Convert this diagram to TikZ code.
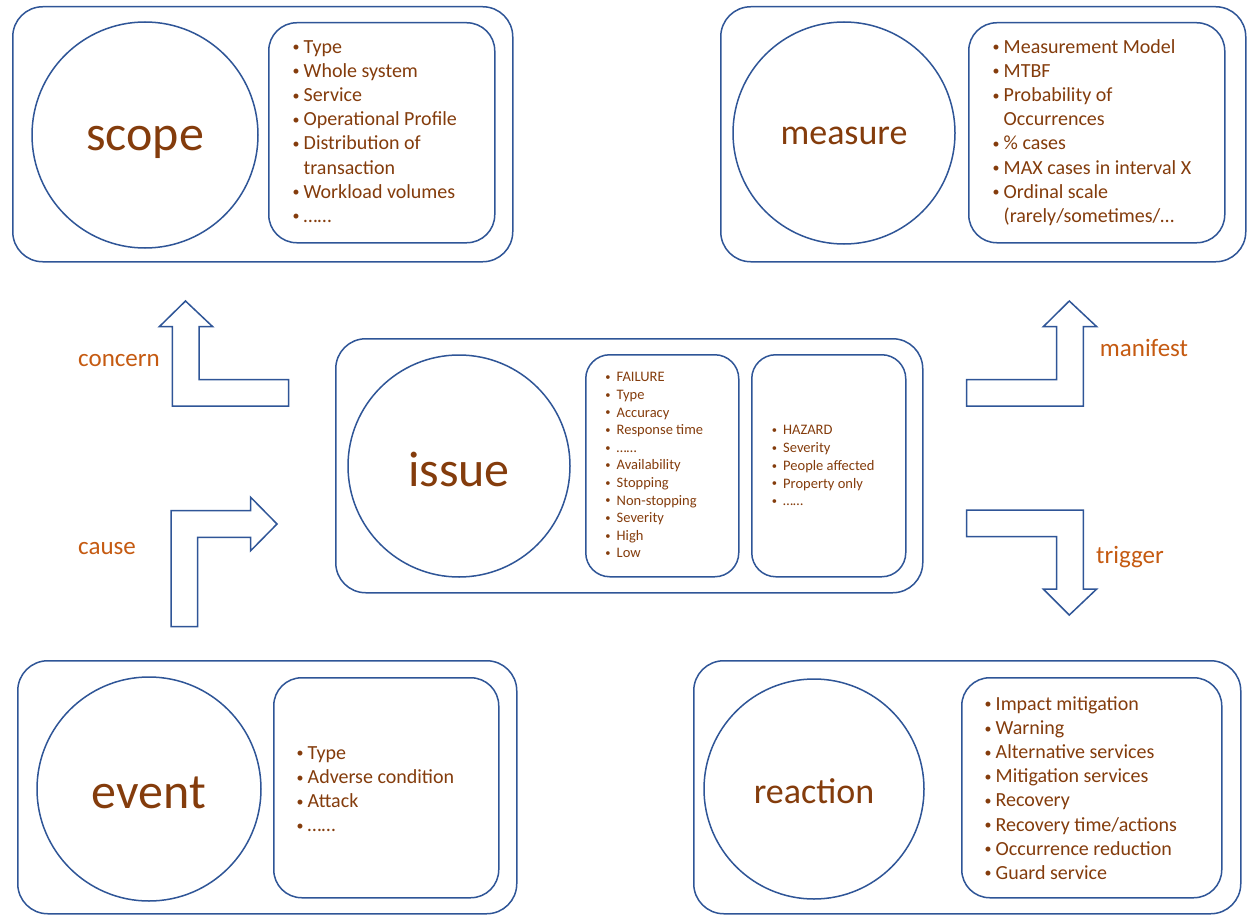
\documentclass[tikz,border=0pt]{standalone}
\usepackage{fontspec}
\setmainfont{Carlito}
\definecolor{frame}{RGB}{47,85,151}
\definecolor{itemtxt}{RGB}{132,60,12}
\definecolor{flow}{RGB}{197,90,17}
% small bullets hung to the left of an item
\newcommand\bul[1]{\llap{\raisebox{1.6pt}{\fontsize{14}{14}\selectfont•}\hspace{4pt}}#1}
\newcommand\sbul[1]{\llap{\raisebox{1.2pt}{\fontsize{10.5}{10.5}\selectfont•}\hspace{6pt}}#1}
\begin{document}
\begin{tikzpicture}[x=1pt,y=-1pt,
  panel/.style={draw=frame, line width=1.5pt, rounded corners=30pt, inner sep=0pt,
                anchor=north west, fill=white},
  listbox/.style={panel, rounded corners=28pt},
  smallbox/.style={panel, rounded corners=24pt},
  ring/.style={draw=frame, line width=1.5pt, circle, inner sep=0pt, text=itemtxt,
               text depth=0pt},
  bigword/.style={ring, font=\fontsize{50}{60}\selectfont},
  midword/.style={ring, font=\fontsize{36}{43}\selectfont},
  item/.style={anchor=base west, inner sep=0pt, text=itemtxt,
               font=\fontsize{20}{24}\selectfont},
  smallitem/.style={anchor=base west, inner sep=0pt, text=itemtxt,
               font=\fontsize{14.5}{17.6}\selectfont},
  flowlabel/.style={inner sep=0pt, text=flow, font=\fontsize{25}{30}\selectfont},
  blockarrow/.style={draw=frame, line width=1.5pt, line join=miter, fill=white}
]
\useasboundingbox (0,0) rectangle (1247,915);

% ---------- scope ----------
\node[panel, minimum width=500pt, minimum height=255pt] (scopePanel) at (12,6) {};
\node[bigword, minimum size=226pt, text height=30pt] (scopeRing) at (145,135) {scope};
\node[listbox, minimum width=226pt, minimum height=220pt] (scopeList) at (268,22) {};
\foreach \t [count=\i from 0] in {\bul{Type},\bul{Whole system},\bul{Service},
  \bul{Operational Profile},\bul{Distribution of},transaction,\bul{Workload volumes},\bul{……}}
  \node[item] (scopeItem\i) at (303.5,53.5+24.1*\i) {\t};

% ---------- measure ----------
\node[panel, minimum width=525pt, minimum height=255pt] (measurePanel) at (720,6) {};
\node[midword, minimum size=222pt, text height=24pt] (measureRing) at (844,133) {measure};
\node[listbox, minimum width=256pt, minimum height=220pt] (measureList) at (968,22) {};
\foreach \t [count=\i from 0] in {\bul{Measurement Model},\bul{MTBF},\bul{Probability of},
  Occurrences,\bul{\% cases},\bul{MAX cases in interval X},\bul{Ordinal scale},{(rarely/sometimes/…}}
  \node[item] (measureItem\i) at (1003.5,53.5+24.1*\i) {\t};

% ---------- issue ----------
\node[panel, minimum width=587pt, minimum height=254pt] (issuePanel) at (335,338) {};
\node[bigword, minimum size=222pt, text height=41pt] (issueRing) at (459,466) {issue};
\node[smallbox, minimum width=153pt, minimum height=222pt] (failList) at (585,354) {};
\node[smallbox, minimum width=154pt, minimum height=222pt] (hazardList) at (751,354) {};
\foreach \t [count=\i from 0] in {FAILURE,Type,Accuracy,Response time,……,Availability,
  Stopping,Non-stopping,Severity,High,Low}
  \node[smallitem] (failItem\i) at (616.5,381.8+17.6*\i) {\sbul{\t}};
\foreach \t [count=\i from 0] in {HAZARD,Severity,People affected,Property only,……}
  \node[smallitem] (hazardItem\i) at (783,434.8+17.75*\i) {\sbul{\t}};

% ---------- event ----------
\node[panel, minimum width=499pt, minimum height=253pt] (eventPanel) at (17,660) {};
\node[bigword, minimum size=224pt, text height=38pt] (eventRing) at (149,789) {event};
\node[listbox, minimum width=225pt, minimum height=220pt] (eventList) at (273,677) {};
\foreach \t [count=\i from 0] in {Type,Adverse condition,Attack,……}
  \node[item] (eventItem\i) at (307.5,759.5+24.1*\i) {\bul{\t}};

% ---------- reaction ----------
\node[panel, minimum width=547pt, minimum height=253pt] (reactionPanel) at (693,660) {};
\node[midword, minimum size=220pt, text height=28pt] (reactionRing) at (814,789) {reaction};
\node[listbox, minimum width=260pt, minimum height=220pt] (reactionList) at (961,677) {};
\foreach \t [count=\i from 0] in {Impact mitigation,Warning,Alternative services,
  Mitigation services,Recovery,Recovery time/actions,Occurrence reduction,Guard service}
  \node[item] (reactionItem\i) at (995.5,710.5+24.1*\i) {\bul{\t}};

% ---------- bent block arrows ----------
% concern: from issue up to scope
\draw[blockarrow] (185.5,301) -- (212.7,326.7) -- (199,326.7) -- (199,379.7)
  -- (288.7,379.7) -- (288.7,406) -- (172.3,406) -- (172.3,326.7) -- (159.3,326.7) -- cycle;
% cause: from event up and right to issue
\draw[blockarrow] (171,626.7) -- (171,510.7) -- (250.7,510.7) -- (250.7,497.3)
  -- (277,524) -- (250.7,550.7) -- (250.7,537.3) -- (197.7,537.3) -- (197.7,626.7) -- cycle;
% manifest: from issue up to measure
\draw[blockarrow] (1069.3,301) -- (1096.7,326.7) -- (1083.3,326.7) -- (1083.3,406)
  -- (966.7,406) -- (966.7,379.7) -- (1056.7,379.7) -- (1056.7,326.7) -- (1043.3,326.7) -- cycle;
% trigger: from issue down to reaction
\draw[blockarrow] (966.7,510) -- (1083.3,510) -- (1083.3,589) -- (1096.7,589)
  -- (1069.3,615) -- (1043.3,589) -- (1056.7,589) -- (1056.7,536.7) -- (966.7,536.7) -- cycle;

\node[flowlabel] (concernLabel) at (119,361) {concern};
\node[flowlabel] (causeLabel) at (107,549) {cause};
\node[flowlabel] (manifestLabel) at (1144,348) {manifest};
\node[flowlabel] (triggerLabel) at (1130,557) {trigger};
\end{tikzpicture}
\end{document}
